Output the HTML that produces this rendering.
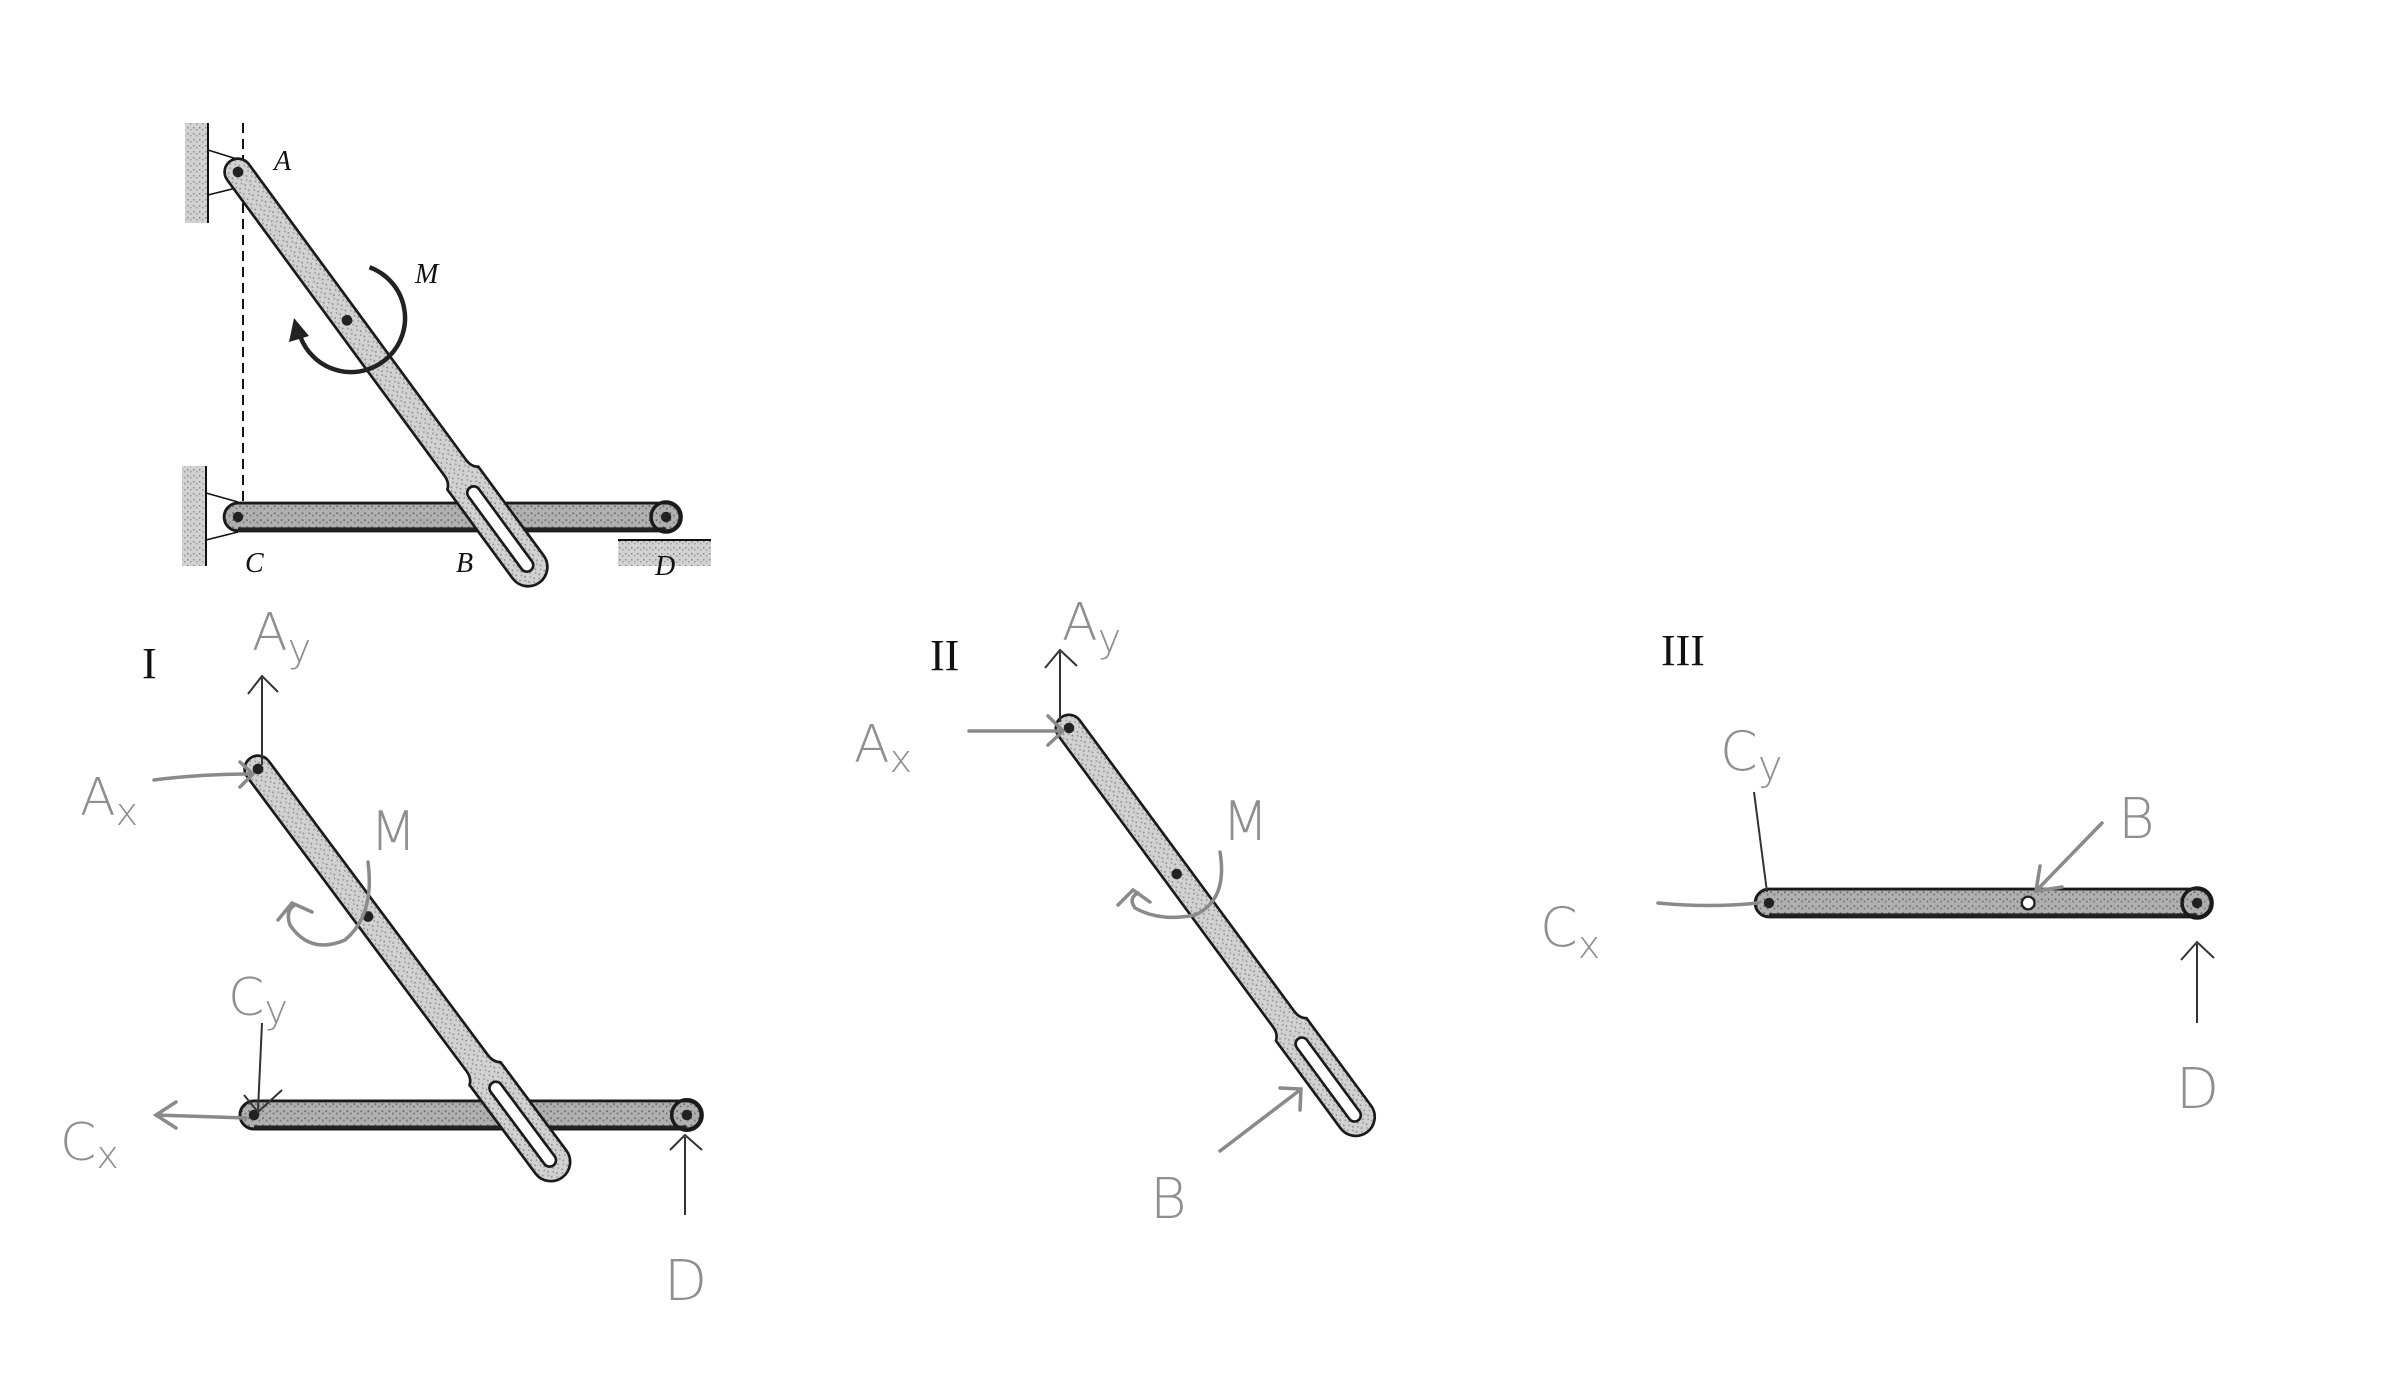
<!DOCTYPE html>
<html><head><meta charset="utf-8"><style>
html,body{margin:0;padding:0;background:#fff;}
svg{display:block;}
.hand{font-family:"DejaVu Sans","Liberation Sans",sans-serif;fill:#8f8f8f;font-weight:300;}
.it{font-family:"Liberation Serif",serif;font-style:italic;fill:#111;}
.rom{font-family:"Liberation Serif",serif;fill:#111;}
</style></head><body>
<svg width="2400" height="1400" viewBox="0 0 2400 1400" xmlns="http://www.w3.org/2000/svg">
<defs>
<pattern id="spk" width="6" height="6" patternUnits="userSpaceOnUse">
<rect width="6" height="6" fill="#d2d2d2"/><rect x="1" y="1" width="1.5" height="1.5" fill="#8a8a8a"/><rect x="4" y="3" width="1.5" height="1.5" fill="#999"/>
</pattern>
<pattern id="spk2" width="6" height="6" patternUnits="userSpaceOnUse">
<rect width="6" height="6" fill="#b0b0b0"/><rect x="1" y="2" width="1.5" height="1.5" fill="#6a6a6a"/><rect x="4" y="4" width="1.5" height="1.5" fill="#777"/>
</pattern>
<g id="link">
<path d="M0,-12.5 L343,-12.5 Q351,-12.5 355,-18 L458,-18 A18,18 0 0 1 458,18 L355,18 Q351,12.5 343,12.5 L0,12.5 A12.5,12.5 0 0 1 0,-12.5 Z" fill="url(#spk)" stroke="#1a1a1a" stroke-width="2.5"/>
<rect x="366" y="-6" width="96" height="12" rx="6" fill="#fff" stroke="#1a1a1a" stroke-width="2.5"/>
<circle cx="0" cy="0" r="5" fill="#222"/>
<circle cx="172" cy="0" r="5" fill="#222"/>
</g>
<g id="bar">
<rect x="-12" y="-12" width="394" height="24" rx="12" fill="url(#spk2)" stroke="#1a1a1a" stroke-width="2.5"/>
<line x1="0" y1="10.5" x2="370" y2="10.5" stroke="#222" stroke-width="3"/>
<circle cx="370" cy="0" r="13" fill="none" stroke="#1a1a1a" stroke-width="3"/>
<circle cx="0" cy="0" r="4.5" fill="#222"/>
<circle cx="370" cy="0" r="4.5" fill="#222"/>
<circle cx="224" cy="0" r="5.5" fill="#fff" stroke="#222" stroke-width="2"/>
</g>
</defs>

<!-- ===== Top original figure ===== -->
<rect x="185" y="123" width="23" height="100" fill="url(#spk)"/>
<line x1="208" y1="123" x2="208" y2="223" stroke="#111" stroke-width="2"/>
<line x1="208" y1="150" x2="240" y2="160" stroke="#111" stroke-width="1.5"/>
<line x1="208" y1="195" x2="236" y2="188" stroke="#111" stroke-width="1.5"/>
<line x1="243" y1="123" x2="243" y2="505" stroke="#111" stroke-width="2" stroke-dasharray="10,6"/>
<rect x="182" y="466" width="24" height="100" fill="url(#spk)"/>
<line x1="206" y1="466" x2="206" y2="566" stroke="#111" stroke-width="2"/>
<line x1="206" y1="493" x2="238" y2="502" stroke="#111" stroke-width="1.5"/>
<line x1="206" y1="540" x2="238" y2="532" stroke="#111" stroke-width="1.5"/>
<rect x="618" y="540" width="93" height="26" fill="url(#spk)"/>
<line x1="618" y1="540" x2="711" y2="540" stroke="#111" stroke-width="2"/>
<use href="#bar" transform="translate(238,517) scale(1.157)"/>
<use href="#link" transform="translate(238,172) rotate(53.7) scale(1.07)"/>
<path d="M369.5,267.3 A54,54 0 1 1 300.3,336.5" fill="none" stroke="#222" stroke-width="4.5"/>
<polygon points="294,318 289,342 309,336" fill="#222"/>
<text class="it" x="274" y="170" font-size="28">A</text>
<text class="it" x="415" y="283" font-size="28">M</text>
<text class="it" x="245" y="572" font-size="28">C</text>
<text class="it" x="456" y="572" font-size="28">B</text>
<text class="it" x="655" y="575" font-size="28">D</text>

<!-- ===== Section I ===== -->
<text class="rom" x="142" y="678" font-size="44">I</text>
<use href="#bar" transform="translate(254,1115) scale(1.17)"/>
<use href="#link" transform="translate(258,769) rotate(53.3) scale(1.07)"/>
<g fill="none" stroke="#333" stroke-width="2">
<line x1="262" y1="765" x2="262" y2="678"/><polyline points="248,694 262,676 278,692"/>
<line x1="262" y1="1023" x2="258" y2="1110"/><polyline points="244,1095 258,1112 282,1090"/>
<line x1="685" y1="1215" x2="685" y2="1137"/><polyline points="670,1150 685,1135 702,1150"/>
</g>
<g fill="none" stroke="#8a8a8a" stroke-width="3.5" stroke-linecap="round">
<path d="M154,780 Q200,774 252,774"/><polyline points="240,762 253,774 240,787"/>
<path d="M246,1118 L156,1115"/><polyline points="176,1102 156,1115 176,1128"/>
<path d="M368,862 Q375,915 345,940 Q310,955 290,925 Q285,910 295,905"/><polyline points="278,920 292,903 312,912"/>
</g>
<text class="hand" x="252" y="650" font-size="52">A<tspan font-size="40" dy="12">y</tspan></text>
<text class="hand" x="80" y="815" font-size="52">A<tspan font-size="38" dy="10">x</tspan></text>
<text class="hand" x="370" y="850" font-size="54">M</text>
<text class="hand" x="228" y="1015" font-size="52">C<tspan font-size="40" dy="8">y</tspan></text>
<text class="hand" x="60" y="1160" font-size="52">C<tspan font-size="38" dy="8">x</tspan></text>
<text class="hand" x="664" y="1300" font-size="56">D</text>

<!-- ===== Section II ===== -->
<text class="rom" x="930" y="670" font-size="44">II</text>
<use href="#link" transform="translate(1069,728) rotate(53.6) scale(1.055)"/>
<g fill="none" stroke="#333" stroke-width="2">
<line x1="1060" y1="722" x2="1060" y2="652"/><polyline points="1045,668 1060,650 1077,666"/>
</g>
<g fill="none" stroke="#8a8a8a" stroke-width="3.5" stroke-linecap="round">
<path d="M969,731 L1062,731"/><polyline points="1048,716 1063,731 1048,745"/>
<path d="M1220,852 Q1228,900 1195,915 Q1160,922 1135,908 Q1128,898 1138,893"/><polyline points="1118,905 1133,890 1150,902"/>
<path d="M1220,1151 L1300,1090"/><polyline points="1280,1088 1301,1089 1300,1110"/>
</g>
<text class="hand" x="1062" y="640" font-size="52">A<tspan font-size="40" dy="12">y</tspan></text>
<text class="hand" x="854" y="762" font-size="52">A<tspan font-size="38" dy="10">x</tspan></text>
<text class="hand" x="1222" y="840" font-size="54">M</text>
<text class="hand" x="1150" y="1218" font-size="56">B</text>

<!-- ===== Section III ===== -->
<text class="rom" x="1661" y="665" font-size="44">III</text>
<use href="#bar" transform="translate(1769,903) scale(1.157)"/>
<g fill="none" stroke="#333" stroke-width="2">
<line x1="1754" y1="792" x2="1767" y2="892"/>
<line x1="2197" y1="1023" x2="2197" y2="944"/><polyline points="2181,960 2197,942 2214,958"/>
</g>
<g fill="none" stroke="#8a8a8a" stroke-width="3.5" stroke-linecap="round">
<path d="M1658,903 Q1710,908 1758,903"/>
<path d="M2102,823 L2036,891"/><polyline points="2040,866 2036,891 2062,887"/>
</g>
<text class="hand" x="1720" y="770" font-size="54">C<tspan font-size="42" dy="10">y</tspan></text>
<text class="hand" x="1540" y="946" font-size="54">C<tspan font-size="38" dy="12">x</tspan></text>
<text class="hand" x="2118" y="838" font-size="56">B</text>
<text class="hand" x="2176" y="1108" font-size="56">D</text>
</svg>
</body></html>
